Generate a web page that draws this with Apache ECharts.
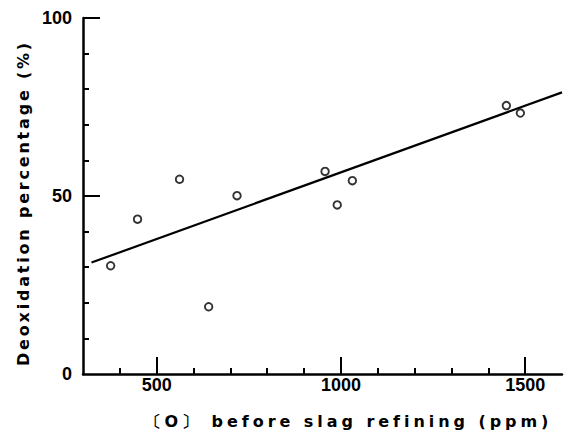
<!DOCTYPE html>
<html>
<head>
<meta charset="utf-8">
<script src="https://cdn.jsdelivr.net/npm/echarts@6/dist/echarts.min.js"></script>
<style>
  html, body { margin: 0; padding: 0; background: #fff; }
  #chart { width: 568px; height: 438px; }
</style>
</head>
<body>
<div id="chart"></div>
<script>
// Oxygen content before slag refining (ppm) and resulting deoxidation (%)
const oxygenBefore = [375, 448, 562, 641, 718, 957, 990, 1031, 1449, 1487];
const deoxidation = [30.4, 43.5, 54.7, 18.9, 50.1, 56.9, 47.5, 54.3, 75.4, 73.3];

// Regression line end points
const fitX = [323, 1600];
const fitY = [31.3, 79.1];

// Tick positions and labels
const xMinorTicks = [400, 600, 700, 800, 900, 1100, 1200, 1300, 1400];
const xMajorTicks = [500, 1000, 1500];
const xLabels = [500, 1000, 1500];
const yMinorTicks = [10, 20, 30, 40, 60, 70, 80, 90];
const yMajorTicks = [50, 100];
const yLabels = [0, 50, 100];

const xTitle = '〔O〕 before slag refining (ppm)';
const yTitle = 'Deoxidation percentage (%)';

const INK = '#000';
const labelFont = {
  color: INK, fontSize: 18, fontWeight: 'bold',
  fontFamily: 'Liberation Sans, Arial, sans-serif',
  formatter: v => String(v)
};
const titleFont = { color: INK, fontSize: 16, fontWeight: 'bold', fontFamily: 'DejaVu Sans, sans-serif' };

const chart = echarts.init(document.getElementById('chart'), null, { renderer: 'svg' });

const scatterData = oxygenBefore.map((x, i) => [x, deoxidation[i]]);
const fitData = fitX.map((x, i) => [x, fitY[i]]);

chart.setOption({
  animation: false,
  backgroundColor: '#fff',
  grid: { left: 83, right: 6, top: 18, bottom: 64, outerBoundsMode: 'none' },
  xAxis: [
    {
      type: 'value', min: 300, max: 1600, position: 'bottom',
      splitLine: { show: false },
      axisLine: { show: true, lineStyle: { color: INK, width: 2.5 } },
      axisTick: { show: true, inside: true, length: 6, customValues: xMinorTicks, lineStyle: { color: INK, width: 2 } },
      axisLabel: Object.assign({ customValues: xLabels, margin: 2 }, labelFont),
      name: xTitle, nameLocation: 'middle', nameGap: 39,
      nameTextStyle: Object.assign({ padding: [0, 0, 0, 52] }, titleFont)
    },
    {
      type: 'value', min: 300, max: 1600, position: 'bottom',
      splitLine: { show: false },
      axisLine: { show: false },
      axisTick: { show: true, inside: true, length: 17, customValues: xMajorTicks, lineStyle: { color: INK, width: 2 } },
      axisLabel: { show: false }
    }
  ],
  yAxis: [
    {
      type: 'value', min: 0, max: 100, position: 'left',
      splitLine: { show: false },
      axisLine: { show: true, lineStyle: { color: INK, width: 2.5 } },
      axisTick: { show: true, inside: true, length: 6, customValues: yMinorTicks, lineStyle: { color: INK, width: 2 } },
      axisLabel: Object.assign({ customValues: yLabels, margin: 11 }, labelFont),
      name: yTitle, nameLocation: 'middle', nameGap: 46, nameRotate: 90,
      nameTextStyle: Object.assign({ padding: [0, 14, 0, 0] }, titleFont)
    },
    {
      type: 'value', min: 0, max: 100, position: 'left',
      splitLine: { show: false },
      axisLine: { show: false },
      axisTick: { show: true, inside: true, length: 17, customValues: yMajorTicks, lineStyle: { color: INK, width: 2 } },
      axisLabel: { show: false }
    }
  ],
  series: [
    {
      type: 'line', data: fitData, xAxisIndex: 0, yAxisIndex: 0,
      symbol: 'none', lineStyle: { color: INK, width: 2.2 }, silent: true
    },
    {
      type: 'scatter', data: scatterData, xAxisIndex: 0, yAxisIndex: 0,
      symbol: 'circle', symbolSize: 7.5,
      itemStyle: { color: '#fff', borderColor: INK, borderWidth: 1.9 }, silent: true
    }
  ]
});

// Widen the letter spacing of the two axis titles
function spaceTitles() {
  document.querySelectorAll('#chart svg text').forEach(t => {
    const s = t.textContent;
    if (s === xTitle) t.setAttribute('letter-spacing', '3.95px');
    if (s === yTitle) t.setAttribute('letter-spacing', '2.8px');
  });
}
spaceTitles();
chart.on('finished', spaceTitles);
</script>
</body>
</html>
